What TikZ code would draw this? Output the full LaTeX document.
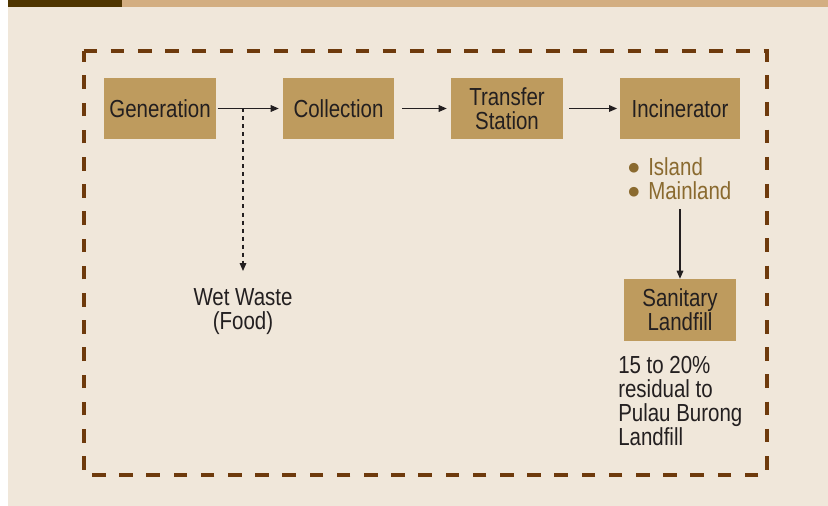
\documentclass[tikz,border=0pt]{standalone}
\usepackage{fontspec}
\setmainfont{Liberation Sans}[FakeStretch=0.83]
\newfontfamily\symfont{DejaVu Sans}
\usetikzlibrary{arrows.meta}
\definecolor{bgc}{HTML}{F0E7DA}
\definecolor{barlight}{HTML}{D3AE81}
\definecolor{bardark}{HTML}{4F3500}
\definecolor{boxc}{HTML}{BE9B5E}
\definecolor{framec}{HTML}{6E3A0C}
\definecolor{txt}{HTML}{231F20}
\definecolor{bullc}{HTML}{8A6A2F}
\newcommand{\mybul}{\makebox[15pt][l]{\raisebox{2.5pt}{\fontsize{9.5}{9.5}\symfont ●}}}
\tikzset{
  stagebox/.style={fill=boxc, draw=none, text=txt, align=center, inner sep=0pt,
    minimum height=45.75pt, font=\fontsize{18.5}{18}\selectfont},
  flowarrow/.style={-{Triangle[length=6pt,width=5pt]}, line width=0.8pt, draw=txt},
  sidearrow/.style={-{Triangle[length=6pt,width=5pt]}, line width=0.8pt, draw=txt, dash pattern=on 3pt off 3pt},
  plaintext/.style={text=txt, inner sep=0pt, font=\fontsize{18.5}{18}\selectfont},
  frame/.style={draw=framec, line width=3pt, dash pattern=on 10.2pt off 10.2pt}
}
\begin{document}
\begin{tikzpicture}[x=0.75pt,y=-0.75pt]
\useasboundingbox (0,0) rectangle (828,506);
\fill[white] (0,0) rectangle (828,506);
\fill[bgc] (8,0) rectangle (828,506);
\fill[barlight] (8,0) rectangle (828,7);
\fill[bardark] (8,0) rectangle (122,7);
\draw[frame] (83.5,51) -- (766.5,51) -- (766.5,475) -- (83.5,475) -- cycle;

\node[stagebox, minimum width=84pt] (gen) at (160,108.5) {Generation};
\node[stagebox, minimum width=83.25pt] (col) at (338.5,108.5) {Collection};
\node[stagebox, minimum width=84pt] (tra) at (507,108.5) {Transfer\\Station};
\node[stagebox, minimum width=90pt] (inc) at (680,108.5) {Incinerator};
\node[stagebox, minimum width=84pt, minimum height=46.5pt] (san) at (680,310) {Sanitary\\Landfill};

\draw[flowarrow, shorten <=1pt, shorten >=3pt] (gen) -- (col);
\draw[flowarrow, shorten <=6pt, shorten >=3pt] (col) -- (tra);
\draw[flowarrow, shorten <=4.5pt, shorten >=2pt] (tra) -- (inc);

\coordinate (split) at (243,108.5);
\coordinate (wetend) at (243,271);
\draw[sidearrow] (split) -- (wetend);
\node[plaintext, align=center, anchor=north] (wet) at (243,288) {Wet Waste\\(Food)};

\node[plaintext, text=bullc, align=left, anchor=north west] (bul) at (628,157) {\mybul Island\\\mybul Mainland};
\coordinate (bulend) at (680,209);
\draw[flowarrow] (bulend) -- (san);

\node[plaintext, align=left, anchor=north west] (res) at (618,356) {15 to 20\%\\residual to\\Pulau Burong\\Landfill};
\end{tikzpicture}
\end{document}
